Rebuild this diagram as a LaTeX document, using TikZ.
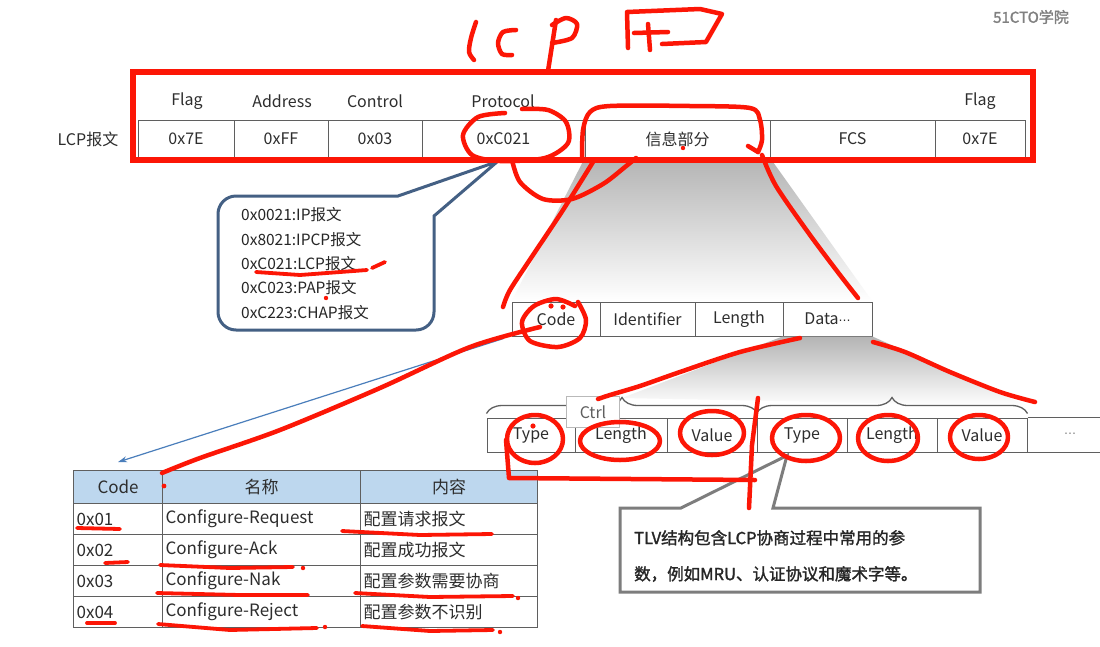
\documentclass[tikz,border=0pt]{standalone}
\usepackage{fontspec}
\setmainfont{Noto Sans CJK SC}
\newfontfamily\cjkb[FakeBold=1.6]{Noto Sans CJK SC}
\newfontfamily\dvs{DejaVu Sans}
\usetikzlibrary{decorations.pathreplacing,arrows.meta,calc}
\definecolor{penred}{RGB}{252,22,6}
\definecolor{gridgray}{RGB}{95,95,95}
\definecolor{hdrblue}{RGB}{189,215,238}
\definecolor{bubblue}{RGB}{68,96,132}
\definecolor{txt}{RGB}{45,45,45}
\definecolor{arrblue}{RGB}{74,126,187}
\definecolor{shadegray}{RGB}{180,180,180}
\definecolor{boxgray}{RGB}{125,125,125}
\newcommand\fsz[1]{\fontsize{#1}{#1}\selectfont}
\begin{document}
\begin{tikzpicture}[x=1pt,y=-1pt,
  every node/.style={text=txt, font=\fsz{16}, inner sep=0},
  cell/.style={draw=gridgray, line width=1},
  toprow/.style={cell, minimum height=38},
  coderow/.style={cell, minimum height=34},
  tlvrow/.style={cell, minimum height=34},
  tcell/.style={draw=gridgray, line width=1.2, minimum height=31, inner xsep=3, inner ysep=0, anchor=north west, align=left, font=\fsz{17}},
  hcell/.style={tcell, fill=hdrblue, minimum height=33, align=center},
  pen/.style={draw=penred, line width=4.5, line cap=round, line join=round},
  thinpen/.style={pen, line width=3.8},
  brc/.style={draw=gridgray, line width=1.3, decorate, decoration={brace, amplitude=16}}]
\useasboundingbox (0,0) rectangle (1100,646);
\fill[white] (0,0) rectangle (1100,646);

% watermark
\node[text=gray, font=\cjkb\fsz{15}] (logo) at (1031,17) {51CTO学院};

% ---------- top frame ----------
\node (lcplabel) at (88,139) {LCP报文};
\node[toprow, minimum width=96] (c1) at (186,139) {0x7E};
\node[toprow, minimum width=94] (c2) at (281,139) {0xFF};
\node[toprow, minimum width=94] (c3) at (375,139) {0x03};
\node[toprow, minimum width=163] (c4) at (503.5,139) {0xC021};
\node[toprow, minimum width=185] (c5) at (677.5,139) {信息部分};
\node[toprow, minimum width=165] (c6) at (852.5,139) {FCS};
\node[toprow, minimum width=90] (c7) at (980,139) {0x7E};
\node (h1) at (187,101) {Flag};
\node (h2) at (282,101) {Address};
\node (h3) at (375,101) {Control};
\node (h4) at (503,101) {Protocol};
\node (h7) at (980,101) {Flag};

% ---------- Code row ----------
\node[coderow, minimum width=88] (k1) at (556,319) {Code};
\node[coderow, minimum width=95] (k2) at (647.5,319) {Identifier};
\node[coderow, minimum width=88] (k3) at (739,319) {Length};
\node[coderow, minimum width=89] (k4) at (827.5,319) {Data{\dvs\fsz{12}⋯}};

% shaded expansions
\shade[top color=shadegray, bottom color=white] (c5.south west) -- (c5.south east) -- (k4.north east) -- (k1.north west) -- cycle;
\coordinate (b1tip) at (622,398);
\coordinate (b2end) at (1028,406);
\shade[top color=shadegray, bottom color=white] (k4.south west) -- (k4.south east) -- (b2end) -- (b1tip) -- cycle;

% ---------- TLV row ----------
\node[tlvrow, minimum width=88] (t1) at (531,435) {Type};
\node[tlvrow, minimum width=92] (t2) at (621,435) {Length};
\node[tlvrow, minimum width=90] (t3) at (712,435) {Value};
\node[tlvrow, minimum width=90] (t4) at (802,435) {Type};
\node[tlvrow, minimum width=90] (t5) at (892,435) {Length};
\node[tlvrow, minimum width=90] (t6) at (982,435) {Value};
\node[text=gray, font=\dvs\fsz{12}] (t7) at (1070,435) {⋯};
\draw[gridgray, line width=1] (t6.north east) -- (t6.north east -| 1100,0);
\draw[gridgray, line width=1] (t6.south east) -- (t6.south east -| 1100,0);
\draw[brc] (t1.north west) ++(0,-4) -- ($(t3.north east)+(0,-4)$);
\draw[brc] (t4.north west) ++(0,-4) -- ($(t6.north east)+(0,-4)$);
\node[draw=gray!55, fill=white, minimum width=53, minimum height=31, text=gray!75!black] (ctrl) at (593,412) {Ctrl};

% ---------- callout bubble ----------
\coordinate (btip) at ($(c4.south)+(-6,3)$);
\draw[bubblue, line width=3, fill=white] (398,196) [rounded corners=18] -- (218,196) -- (218,330) -- (434,330) [sharp corners] -- (434,216) -- (btip) -- cycle;
\node[anchor=west, align=left, font=\fontsize{15.5}{24.3}\selectfont, text=black!85] (bubtext) at (241,263.5)
  {0x0021:IP报文\\0x8021:IPCP报文\\0xC021:LCP报文\\0xC023:PAP报文\\0xC223:CHAP报文};

% ---------- TLV callout ----------
\coordinate (ttip) at ($(t4.south)+(-15,3)$);
\draw[boxgray, line width=3, fill=white, line join=miter] (681,508) -- (ttip) -- (773,508) -- (980,508) -- (980,592) -- (620,592) -- (620,508) -- cycle;
\node[anchor=west, align=left, font=\cjkb\fontsize{16.5}{36}\selectfont, text=black!85] (tlvtext) at (634,556)
  {TLV结构包含LCP协商过程中常用的参\\数，例如MRU、认证协议和魔术字等。};

% ---------- code table ----------
\node[hcell, text width=83] (th1) at (73,470) {Code};
\node[hcell, text width=192] (th2) at (162,470) {名称};
\node[hcell, text width=171] (th3) at (360,470) {内容};
\foreach \r/\a/\b/\c in {1/0x01/Configure-Request/配置请求报文,2/0x02/Configure-Ack/配置成功报文,3/0x03/Configure-Nak/配置参数需要协商,4/0x04/Configure-Reject/配置参数不识别}{
  \node[tcell, text width=83] (ta\r) at (73,{503+31*(\r-1)}) {\a};
  \node[tcell, text width=192] (tb\r) at (162,{503+31*(\r-1)}) {\b};
  \node[tcell, text width=171] (tc\r) at (360,{503+31*(\r-1)}) {\c};
}
\draw[arrblue, line width=1.2, -{Stealth[length=9pt,width=6pt]}] ($(k1.south west)+(-8,2)$) -- ($(th1.north)+(0,-8)$);

% ---------- red annotations ----------
\draw[pen, line width=6, line cap=butt, line join=miter] (133,72) rectangle (1033,160);
% handwriting "lCP" and flag
\draw[pen] plot[smooth] coordinates {(476,22) (471,38) (469,52) (474,60)};
\draw[pen] plot[smooth] coordinates {(516,30) (503,32) (498,43) (502,54) (512,55)};
\draw[pen] (556,20) -- (548,71);
\draw[pen] plot[smooth] coordinates {(552,25) (566,18) (577,24) (572,38) (552,43)};
\draw[pen] (628,48) -- (627,12) -- (700,9) -- (722,14) -- (706,42) -- (662,44);
\draw[pen] (634,33) -- (668,32);
\draw[pen] (648,24) -- (650,50);
% circle round 0xC021 and its loop
\draw[pen] plot[smooth] coordinates {(505,113) (478,117) (463,135) (472,155) (500,161) (545,158) (568,143) (566,122) (548,110) (522,109)};
\draw[pen] plot[smooth] coordinates {(512,160) (520,182) (543,199) (572,199) (603,184) (625,167) (636,158)};
% box round the information part
\draw[pen] plot[smooth] coordinates {(582,160) (583,130) (590,112) (610,106) (690,106) (750,108) (760,120) (762,140) (758,152)};
\draw[pen] (758,152) -- (748,146);
% expansion lines
\draw[pen] plot[smooth] coordinates {(593,162) (563,210) (533,255) (510,290) (503,307)};
\draw[pen] plot[smooth] coordinates {(762,155) (776,186) (810,235) (840,275) (858,298)};
% Code circle and line to table
\draw[pen] plot[smooth] coordinates {(575,306) (556,299) (534,306) (522,322) (530,341) (558,347) (580,338) (586,320) (578,302)};
\fill[penred] (551,306) circle (2.6pt) (563,307) circle (2.6pt);
\draw[pen] plot[smooth] coordinates {(540,327) (470,347) (380,388) (280,430) (200,458) (162,473)};
\fill[penred] (164,486) circle (2.4pt);
% Data lines to the TLVs
\draw[pen] plot[smooth] coordinates {(800,338) (740,352) (680,372) (640,386) (610,395) (598,399)};
\draw[pen] plot[smooth] coordinates {(873,342) (905,352) (950,372) (1000,392) (1035,402)};
% TLV circles
\draw[pen] (535,439) ellipse [x radius=28pt, y radius=24pt];
\fill[penred] (533,426) circle (2.6pt);
\draw[pen] (620,441) ellipse [x radius=40pt, y radius=19pt];
\draw[pen] (712,433) ellipse [x radius=32pt, y radius=22pt];
\draw[pen] (806,438) ellipse [x radius=34pt, y radius=23pt];
\draw[pen] (888,438) ellipse [x radius=30pt, y radius=23pt];
\draw[pen] (979,437) ellipse [x radius=29pt, y radius=22pt];
\draw[pen] (506,440) -- (509,478) -- (755,480);
\draw[pen] (758,398) -- (752,445) -- (749,508);
% underlines in the bubble
\draw[thinpen] (256,272) -- (300,275) -- (367,270);
\draw[thinpen] (372,268) -- (385,262);
\fill[penred] (326,298) circle (2.2pt);
% underlines in the table
\draw[thinpen] (77,528) -- (120,529);
\draw[thinpen] (342,531) -- (420,535) -- (492,534);
\draw[thinpen] (105,563) -- (128,562);
\draw[thinpen] (160,565) -- (230,568) -- (293,567);
\fill[penred] (303,568) circle (2.2pt);
\draw[thinpen] (157,593) -- (240,595) -- (308,595);
\draw[thinpen] (355,593) -- (430,597) -- (513,596);
\fill[penred] (518,598) circle (2.2pt);
\draw[thinpen] (87,623) -- (115,623);
\draw[thinpen] (158,624) -- (230,630) -- (317,628);
\fill[penred] (325,627) circle (2.2pt);
\draw[thinpen] (362,626) -- (430,631) -- (493,630);
\fill[penred] (500,632) circle (2.2pt);
\fill[penred] (683,148) circle (2.2pt);
\end{tikzpicture}
\end{document}
